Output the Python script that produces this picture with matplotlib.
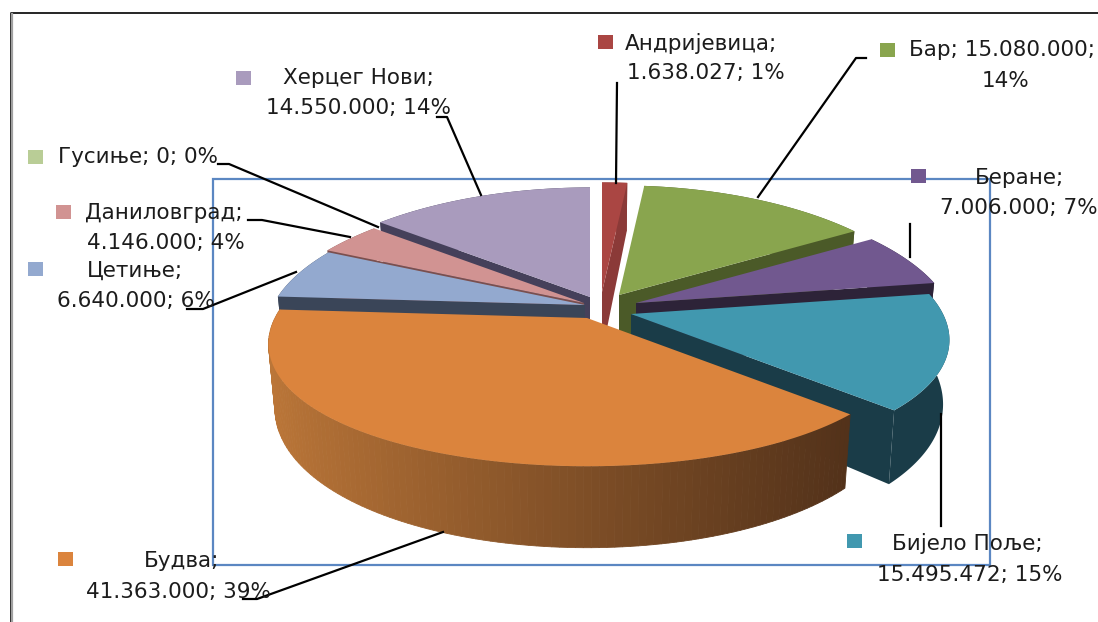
import numpy as np
from matplotlib import pyplot as plt
from matplotlib.colors import to_rgb
from matplotlib.patches import Rectangle

# vrijednosti po opstinama, redom od vrha kruga u smjeru kazaljke
names = ['Андријевица', 'Бар', 'Беране', 'Бијело Поље', 'Будва',
         'Цетиње', 'Даниловград', 'Гусиње', 'Херцег Нови']
values = [1638027, 15080000, 7006000, 15495472, 41363000,
          6640000, 4146000, 0, 14550000]
colors = ['#aa4643', '#89a54e', '#71588f', '#4198af', '#db843d',
          '#93a9cf', '#d19392', '#b9cd96', '#a99bbd']
wall_colors = ['#8b3a38', '#4b5a28', '#2d2338', '#1a3c48', '#8a5528',
               '#3a4558', '#7a4f4e', '#6f7f58', '#45405a']

# tekst natpisa: (x lijevo, y sredina, tekst)
label_lines = [
    (625, 43, 'Андријевица;'), (627, 73, '1.638.027; 1%'),
    (909, 50, 'Бар; 15.080.000;'), (982, 81, '14%'),
    (975, 178, 'Беране;'), (940, 208, '7.006.000; 7%'),
    (892, 543, 'Бијело Поље;'), (877, 575, '15.495.472; 15%'),
    (144, 561, 'Будва;'), (86, 592, '41.363.000; 39%'),
    (87, 271, 'Цетиње;'), (57, 301, '6.640.000; 6%'),
    (85, 213, 'Даниловград;'), (87, 243, '4.146.000; 4%'),
    (58, 157, 'Гусиње; 0; 0%'),
    (283, 78, 'Херцег Нови;'), (266, 108, '14.550.000; 14%'),
]
key_positions = [(598, 35), (880, 43), (911, 169), (847, 534), (58, 552),
                 (28, 262), (56, 205), (28, 150), (236, 71)]
leaders = [
    [(617, 83), (616, 183)],
    [(866, 58), (856, 58), (758, 197)],
    [(910, 224), (910, 257)],
    [(941, 414), (941, 526)],
    [(243, 599), (257, 599), (443, 532)],
    [(187, 309), (203, 309), (296, 272)],
    [(248, 220), (262, 220), (350, 237)],
    [(218, 164), (229, 164), (378, 227)],
    [(437, 117), (447, 117), (481, 195)],
]

# vrh svake kriske na ekranu (razmaknute kriske)
apexes = [(602, 292), (619, 295), (636, 303), (631, 314), (587, 318),
          (585, 305), (584, 303), (584, 303), (590, 297)]
RX, RY, PERSP_X, PERSP_Y, DEPTH, SHRINK = 312, 126, 0.2, 0.15, 61, 0.98
draw_order = [0, 8, 1, 6, 5, 2, 3, 4]


def project(apex, theta):
    u, v = np.sin(theta), np.cos(theta)
    sx = 1 / (1 + PERSP_X * v)
    sy = 1 / (1 + PERSP_Y * v)
    top = np.column_stack([apex[0] + RX * u * sx, apex[1] - RY * v * sy])
    bottom = np.column_stack([apex[0] + RX * u * sx * SHRINK,
                              apex[1] - RY * v * sy * SHRINK + DEPTH * sy ** 2])
    return top, bottom


def main():
    fig = plt.figure(figsize=(10.98, 6.22), dpi=100)
    ax = fig.add_axes([0, 0, 1, 1])
    ax.set_xlim(0, 1098)
    ax.set_ylim(622, 0)
    ax.axis('off')

    # okvir i plavi pravougaonik
    ax.plot([10.5, 10.5, 1098], [622, 12.5, 12.5], color='black', lw=1.2, zorder=1)
    ax.plot([12, 12], [14, 622], color='#a0a0a0', lw=1.6, zorder=1)
    ax.add_patch(Rectangle((213, 179), 777, 386, fill=False, ec='#5b87c2', lw=1.6, zorder=1))

    angles = np.cumsum([0] + values) / sum(values) * 2 * np.pi
    for i in draw_order:
        t = np.linspace(angles[i], angles[i + 1], 120)
        top, bottom = project(apexes[i], t)
        ap_top = np.array(apexes[i], dtype=float)
        ap_bottom = ap_top + [0, DEPTH]
        if names[i] == 'Будва':
            # spoljni zid sa prelazom boje
            left, right = np.array(to_rgb('#bb7638')), np.array(to_rgb('#53321a'))
            x0, x1 = top[:, 0].min(), top[:, 0].max()
            for k in range(len(t) - 1):
                f = ((top[k, 0] - x0) / (x1 - x0)) ** 0.9
                c = left * (1 - f) + right * f
                ax.fill([top[k, 0], top[k + 1, 0], bottom[k + 1, 0], bottom[k, 0]],
                        [top[k, 1], top[k + 1, 1], bottom[k + 1, 1], bottom[k, 1]],
                        color=c, lw=0.6, zorder=2)
        else:
            ax.fill(np.r_[top[:, 0], bottom[::-1, 0]], np.r_[top[:, 1], bottom[::-1, 1]],
                    color=wall_colors[i], lw=0, zorder=2)
            # vidljiva strana reza
            j = -1 if np.sin(angles[i]) >= 0 and angles[i] < np.pi else 0
            ax.fill([top[j, 0], ap_top[0], ap_bottom[0], bottom[j, 0]],
                    [top[j, 1], ap_top[1], ap_bottom[1], bottom[j, 1]],
                    color=wall_colors[i], lw=0, zorder=2)
        ax.fill(np.r_[ap_top[0], top[:, 0]], np.r_[ap_top[1], top[:, 1]],
                color=colors[i], lw=0, zorder=2)

    for line in leaders:
        xs, ys = zip(*line)
        ax.plot(xs, ys, color='black', lw=1.6, zorder=3)

    for (x, y), c in zip(key_positions, colors):
        ax.add_patch(Rectangle((x, y), 15, 14, color=c, lw=0, zorder=4))

    for x, y, s in label_lines:
        ax.text(x, y, s, ha='left', va='center', fontsize=15.5, color='#1c1c1c',
                family='DejaVu Sans', zorder=5)

    fig.savefig('out.png', dpi=100)


if __name__ == "__main__":
    main()
